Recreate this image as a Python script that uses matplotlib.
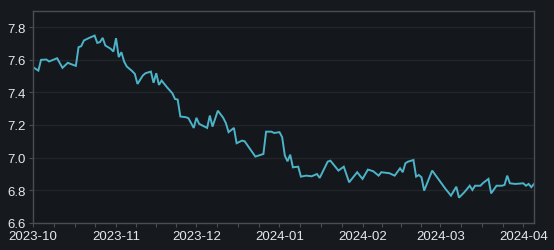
import matplotlib
matplotlib.use("Agg")
import matplotlib.pyplot as plt
import matplotlib.dates as mdates
import matplotlib.ticker as mticker
import pandas as pd

dates = [
    "2023-10-01", "2023-10-03", "2023-10-04", "2023-10-06", "2023-10-07", "2023-10-10",
    "2023-10-12", "2023-10-14", "2023-10-15", "2023-10-17", "2023-10-18", "2023-10-19",
    "2023-10-20", "2023-10-22", "2023-10-24", "2023-10-25", "2023-10-26", "2023-10-27",
    "2023-10-28", "2023-10-30", "2023-10-31", "2023-11-01", "2023-11-02", "2023-11-03",
    "2023-11-04", "2023-11-05", "2023-11-07", "2023-11-08", "2023-11-09", "2023-11-11",
    "2023-11-12", "2023-11-14", "2023-11-15", "2023-11-16", "2023-11-17", "2023-11-18",
    "2023-11-20", "2023-11-22", "2023-11-23", "2023-11-24", "2023-11-25", "2023-11-27",
    "2023-11-28", "2023-11-30", "2023-12-01", "2023-12-02", "2023-12-05", "2023-12-06",
    "2023-12-07", "2023-12-09", "2023-12-11", "2023-12-12", "2023-12-13", "2023-12-15",
    "2023-12-16", "2023-12-18", "2023-12-19", "2023-12-23", "2023-12-26", "2023-12-27",
    "2023-12-29", "2023-12-30", "2024-01-01", "2024-01-02", "2024-01-03", "2024-01-04",
    "2024-01-05", "2024-01-06", "2024-01-08", "2024-01-09", "2024-01-11", "2024-01-13",
    "2024-01-15", "2024-01-16", "2024-01-19", "2024-01-20", "2024-01-23", "2024-01-25",
    "2024-01-27", "2024-01-30", "2024-01-31", "2024-02-01", "2024-02-03", "2024-02-05",
    "2024-02-07", "2024-02-08", "2024-02-11", "2024-02-13", "2024-02-15", "2024-02-16",
    "2024-02-17", "2024-02-18", "2024-02-20", "2024-02-21", "2024-02-22", "2024-02-23",
    "2024-02-24", "2024-02-27", "2024-03-03", "2024-03-04", "2024-03-05", "2024-03-07",
    "2024-03-08", "2024-03-10", "2024-03-12", "2024-03-13", "2024-03-14", "2024-03-16",
    "2024-03-17", "2024-03-19", "2024-03-20", "2024-03-21", "2024-03-22", "2024-03-24",
    "2024-03-25", "2024-03-26", "2024-03-27", "2024-03-29", "2024-04-01", "2024-04-02",
    "2024-04-03", "2024-04-04", "2024-04-05",
]
values = [
    7.555, 7.534, 7.600, 7.602, 7.590, 7.610,
    7.551, 7.582, 7.575, 7.563, 7.678, 7.684,
    7.719, 7.735, 7.749, 7.704, 7.709, 7.735,
    7.688, 7.668, 7.651, 7.733, 7.617, 7.647,
    7.590, 7.559, 7.531, 7.514, 7.452, 7.504,
    7.518, 7.528, 7.459, 7.518, 7.446, 7.473,
    7.432, 7.395, 7.360, 7.356, 7.252, 7.248,
    7.242, 7.182, 7.244, 7.207, 7.182, 7.258,
    7.190, 7.288, 7.244, 7.211, 7.156, 7.182,
    7.088, 7.104, 7.100, 7.006, 7.022, 7.159,
    7.159, 7.151, 7.156, 7.125, 7.012, 6.977,
    7.018, 6.940, 6.944, 6.883, 6.889, 6.885,
    6.899, 6.875, 6.975, 6.981, 6.920, 6.944,
    6.848, 6.910, 6.889, 6.869, 6.926, 6.916,
    6.889, 6.910, 6.904, 6.889, 6.934, 6.910,
    6.965, 6.975, 6.985, 6.883, 6.893, 6.879,
    6.797, 6.920, 6.807, 6.787, 6.766, 6.821,
    6.754, 6.787, 6.827, 6.801, 6.827, 6.827,
    6.844, 6.869, 6.780, 6.803, 6.827, 6.827,
    6.832, 6.889, 6.842, 6.838, 6.842, 6.827,
    6.838, 6.818, 6.838,
]
month_ticks = ["2023-10-01", "2023-11-01", "2023-12-01", "2024-01-01",
               "2024-02-01", "2024-03-01", "2024-04-01"]
month_labels = ["2023-10", "2023-11", "2023-12", "2024-01", "2024-02", "2024-03", "2024-04"]
y_ticks = [6.6, 6.8, 7.0, 7.2, 7.4, 7.6, 7.8]

BG_FIG = "#16191e"
BG_AX = "#14171b"
TEXT = "#e6e8ec"
SPINE = "#4a4e54"
GRID = "#22252a"
LINE = "#4db3c9"

plt.rcParams["font.family"] = ["Liberation Sans", "DejaVu Sans"]

x = pd.to_datetime(dates)
fig = plt.figure(figsize=(5.54, 2.51), dpi=100, facecolor=BG_FIG)
ax = fig.add_axes([33 / 554, 1 - 223.7 / 251, (534 - 33) / 554, (223.7 - 12) / 251])
ax.set_facecolor(BG_AX)

ax.plot(x, values, color=LINE, lw=1.4, solid_joinstyle="miter")

ax.set_xlim(x[0], x[-1])
ax.set_ylim(6.6, 7.9)

mt = pd.to_datetime(month_ticks)
ax.set_xticks(mt)
ax.set_xticklabels(month_labels)
# minor ticks: each month split in quarters
minor = []
bounds = list(mt) + [pd.Timestamp("2024-05-01")]
for a, b in zip(bounds[:-1], bounds[1:]):
    for k in (1, 2, 3):
        minor.append(mdates.date2num(a + (b - a) * k / 4))
ax.xaxis.set_minor_locator(mticker.FixedLocator(minor))

ax.set_yticks(y_ticks)
ax.yaxis.set_major_formatter(mticker.FormatStrFormatter("%.1f"))

ax.grid(axis="y", color=GRID, lw=1.0)
ax.set_axisbelow(True)
for s in ax.spines.values():
    s.set_color(SPINE)
    s.set_linewidth(1.0)

ax.tick_params(axis="both", which="both", colors=SPINE, labelcolor=TEXT,
               labelsize=9.5, length=3, width=0.8, pad=2)
ax.tick_params(axis="x", which="minor", length=3)

fig.savefig("out.png", dpi=100, facecolor=BG_FIG)
